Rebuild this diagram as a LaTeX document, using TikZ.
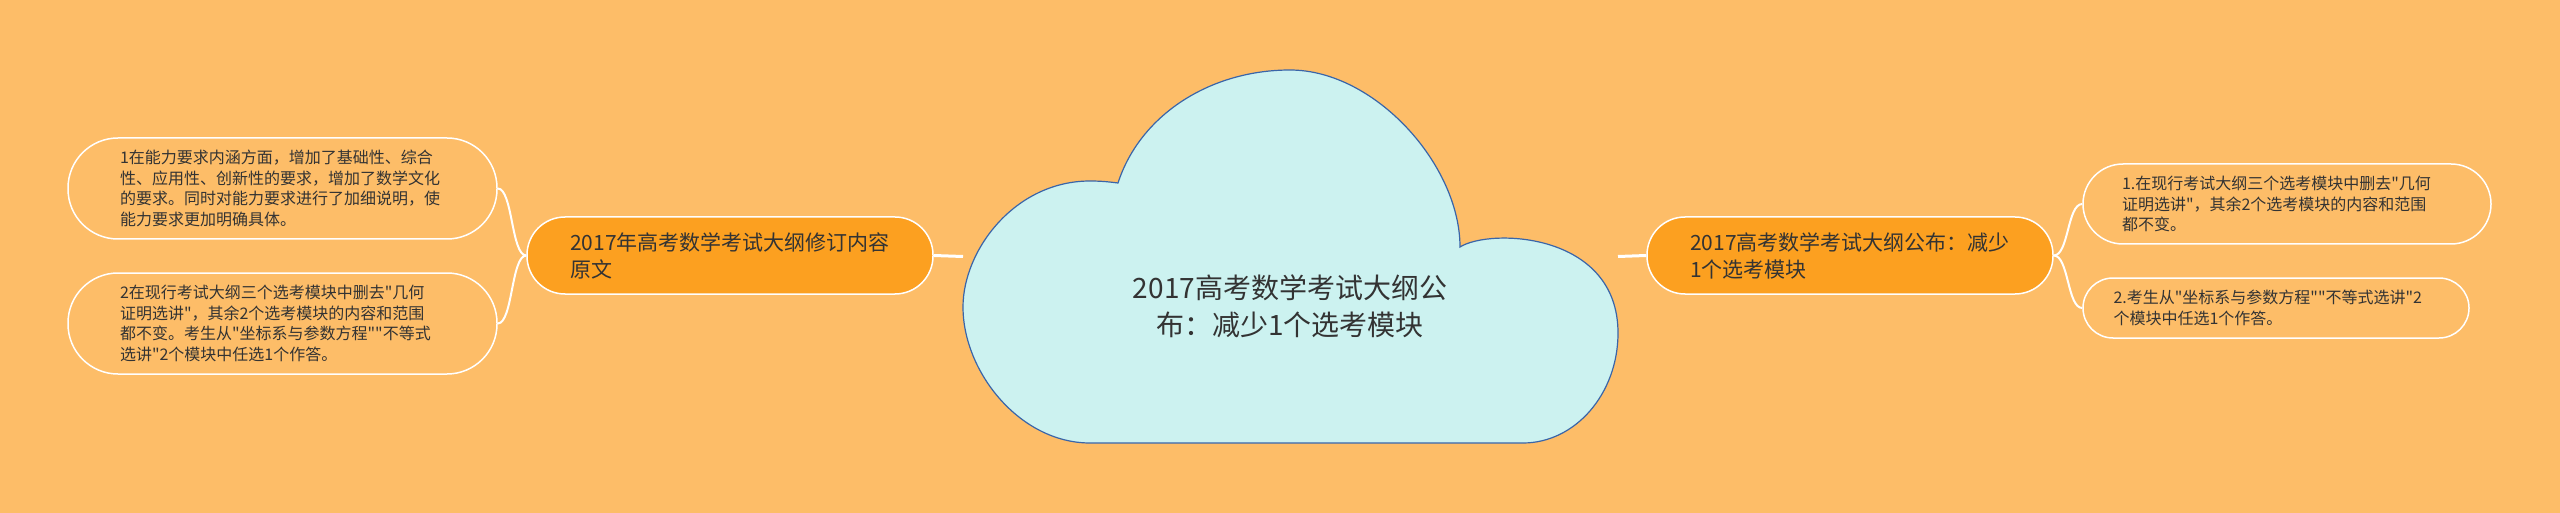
\documentclass[tikz,border=0pt]{standalone}
\usepackage{fontspec}
\setmainfont{Noto Sans CJK SC}[Ligatures=TeXOff]
\newcommand{\dq}{\char34\relax}
\definecolor{bg}{HTML}{FDBD68}
\definecolor{cloudfill}{HTML}{CCF2F0}
\definecolor{cloudline}{HTML}{3A65A8}
\definecolor{mainfill}{HTML}{FCA020}
\definecolor{txt}{HTML}{333333}
\tikzset{
  mainbox/.style={draw=white, line width=1.5pt, fill=mainfill, rounded corners=38pt,
    minimum width=406pt, minimum height=77pt, align=left, text=txt,
    font=\fontsize{21}{27}\selectfont, inner sep=0pt},
  leafbox/.style={draw=white, line width=1.5pt, align=left, text=txt,
    font=\fontsize{16}{20.5}\selectfont, inner sep=0pt},
  link/.style={draw=white, line width=2pt},
  rootlink/.style={draw=white, line width=3pt},
}
\begin{document}
\begin{tikzpicture}[x=1pt,y=1pt]
\path[fill=bg] (0,0) rectangle (2560,-513);
% cloud
\node[minimum width=655pt, minimum height=373pt, inner sep=0pt, outer sep=0pt] (root) at (1290.5,-256.5) {};
\filldraw[fill=cloudfill, draw=cloudline, line width=1.2pt]
  (1118,-183) .. controls (1140,-115) and (1210,-70) .. (1290,-70)
  .. controls (1375,-70) and (1460,-165) .. (1460,-247)
  .. controls (1490,-228) and (1618,-232) .. (1618,-333)
  .. controls (1618,-394) and (1575,-443) .. (1523,-443)
  -- (1090,-443)
  .. controls (1020,-443) and (963,-372) .. (963,-307)
  .. controls (963,-250) and (1015,-181) .. (1090,-181)
  .. controls (1102,-181) and (1110,-182) .. (1118,-183) -- cycle;
\node[font=\fontsize{28}{37}\selectfont, align=center, text=txt] (roottxt) at (1290,-306)
  {2017高考数学考试大纲公\\布：减少1个选考模块};
% main nodes
\node[mainbox] (lm) at (730,-255.5) {2017年高考数学考试大纲修订内容\\原文};
\node[mainbox] (rm) at (1850,-255.5) {2017高考数学考试大纲公布：减少\\1个选考模块};
% leaves
\node[leafbox, minimum width=429pt, minimum height=101pt, rounded corners=50pt, text width=325pt] (l1) at (282.5,-188.5)
  {1在能力要求内涵方面，增加了基础性、综合\\性、应用性、创新性的要求，增加了数学文化\\的要求。同时对能力要求进行了加细说明，使\\能力要求更加明确具体。};
\node[leafbox, minimum width=429pt, minimum height=101pt, rounded corners=50pt, text width=325pt] (l2) at (282.5,-323.5)
  {2在现行考试大纲三个选考模块中删去\dq 几何\\证明选讲\dq ，其余2个选考模块的内容和范围\\都不变。考生从\dq 坐标系与参数方程\dq\dq 不等式\\选讲\dq 2个模块中任选1个作答。};
\node[leafbox, minimum width=408pt, minimum height=80pt, rounded corners=40pt, text width=330pt] (r1) at (2287,-204)
  {1.在现行考试大纲三个选考模块中删去\dq 几何\\证明选讲\dq ，其余2个选考模块的内容和范围\\都不变。};
\node[leafbox, minimum width=386pt, minimum height=60pt, rounded corners=30pt, text width=325pt] (r2) at (2276,-308)
  {2.考生从\dq 坐标系与参数方程\dq\dq 不等式选讲\dq 2\\个模块中任选1个作答。};
% connectors
\draw[rootlink] (lm.east) -- (root.west);
\draw[rootlink] (root.east) -- (rm.west);
\draw[link] (lm.west) .. controls +(-15,0) and +(15,0) .. (l1.east);
\draw[link] (lm.west) .. controls +(-15,0) and +(15,0) .. (l2.east);
\draw[link] (rm.east) .. controls +(15,0) and +(-15,0) .. (r1.west);
\draw[link] (rm.east) .. controls +(15,0) and +(-15,0) .. (r2.west);
\end{tikzpicture}
\end{document}
